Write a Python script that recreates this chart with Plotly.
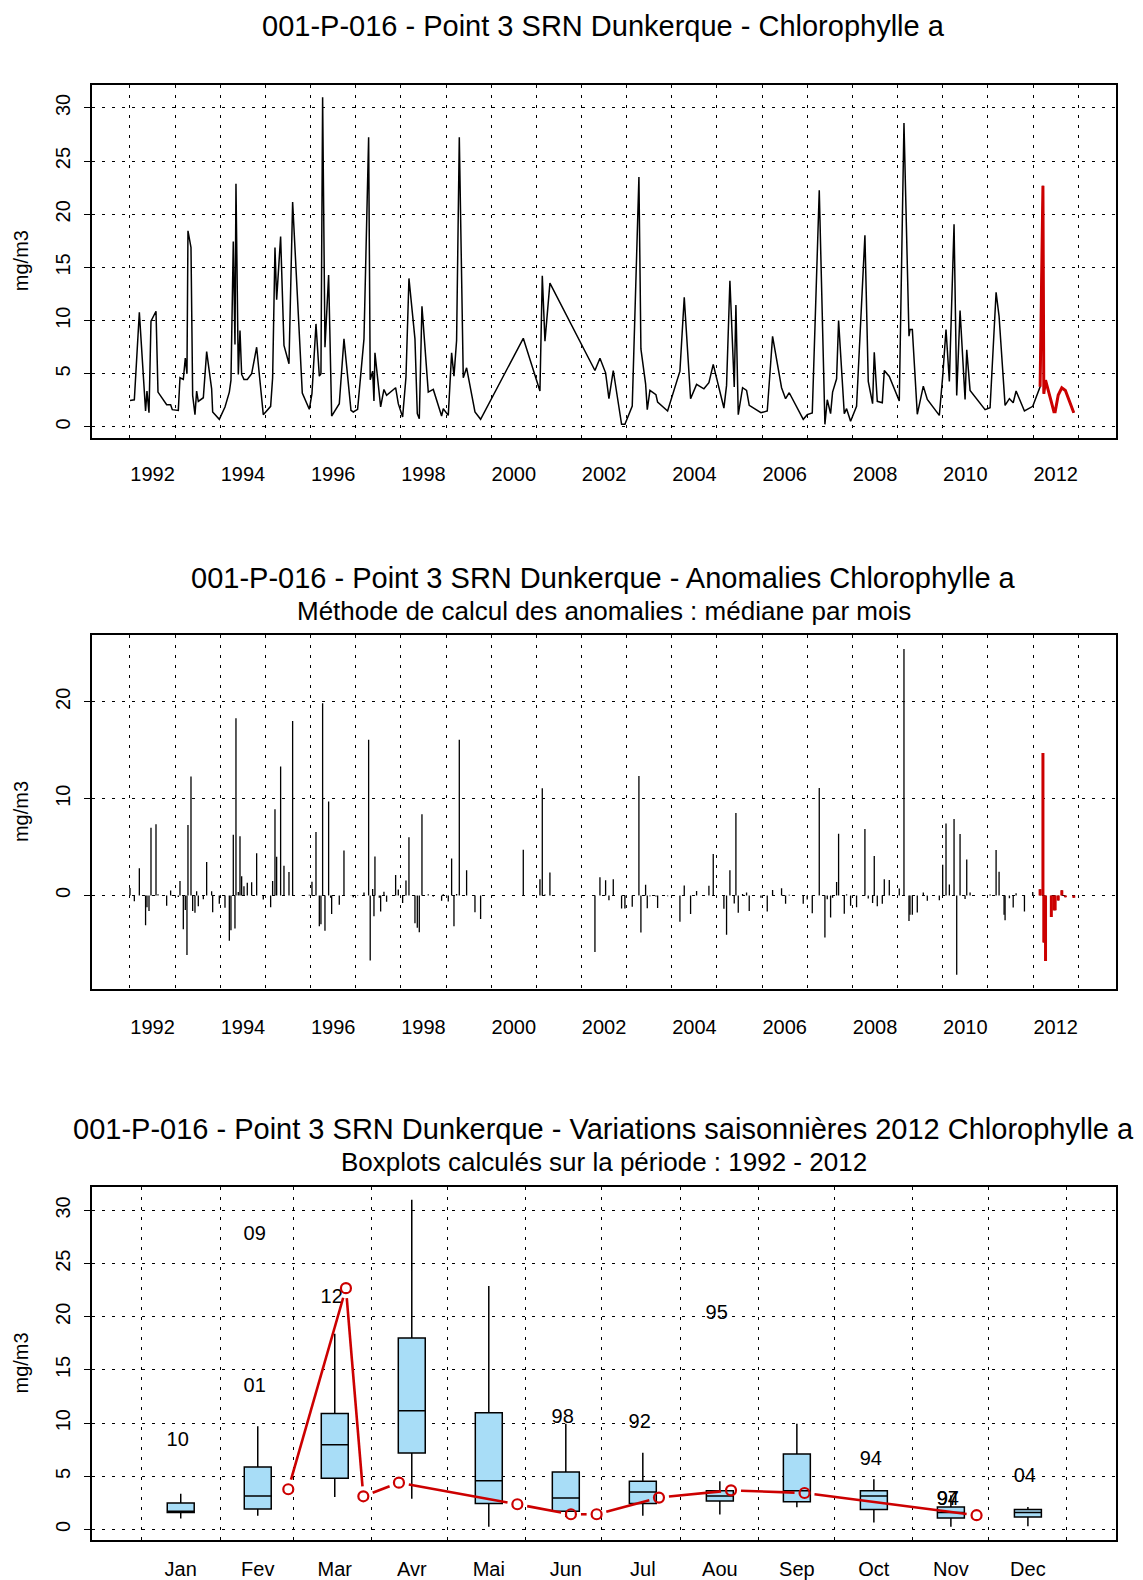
import math
import calendar
import datetime as dt
import plotly.graph_objects as go

# ---------------- data ----------------
# Chlorophylle a time series 1992-2011 (decimal year, mg/m3)
hist_years = [
    1992.000, 1992.096, 1992.207, 1992.345, 1992.376, 1992.421, 1992.465, 1992.576, 1992.620, 1992.812,
    1992.900, 1992.937, 1993.070, 1993.107, 1993.181, 1993.225, 1993.262, 1993.284, 1993.351, 1993.388,
    1993.439, 1993.476, 1993.513, 1993.624, 1993.698, 1993.808, 1993.831, 1993.978, 1994.104, 1994.200,
    1994.236, 1994.288, 1994.325, 1994.347, 1994.399, 1994.436, 1994.473, 1994.524, 1994.598, 1994.694,
    1994.805, 1994.952, 1995.115, 1995.159, 1995.211, 1995.248, 1995.336, 1995.410, 1995.521, 1995.602,
    1995.816, 1995.971, 1996.030, 1996.119, 1996.193, 1996.229, 1996.266, 1996.318, 1996.399, 1996.443,
    1996.466, 1996.635, 1996.739, 1996.894, 1996.945, 1997.041, 1997.182, 1997.285, 1997.320, 1997.374,
    1997.403, 1997.425, 1997.521, 1997.551, 1997.624, 1997.683, 1997.883, 1997.942, 1998.038, 1998.112,
    1998.178, 1998.311, 1998.363, 1998.407, 1998.466, 1998.606, 1998.717, 1998.901, 1998.938, 1999.049,
    1999.123, 1999.175, 1999.233, 1999.293, 1999.381, 1999.455, 1999.640, 1999.765, 2000.710, 2001.079,
    2001.131, 2001.190, 2001.300, 2002.297, 2002.408, 2002.533, 2002.607, 2002.703, 2002.887, 2002.961,
    2003.123, 2003.271, 2003.315, 2003.419, 2003.456, 2003.515, 2003.648, 2003.685, 2003.906, 2004.179,
    2004.275, 2004.415, 2004.548, 2004.710, 2004.821, 2004.917, 2005.153, 2005.212, 2005.286, 2005.382,
    2005.419, 2005.471, 2005.567, 2005.655, 2005.714, 2005.973, 2006.113, 2006.231, 2006.430, 2006.519,
    2006.600, 2006.910, 2006.999, 2007.110, 2007.265, 2007.390, 2007.442, 2007.516, 2007.560, 2007.649,
    2007.693, 2007.819, 2007.870, 2007.959, 2008.091, 2008.276, 2008.350, 2008.446, 2008.483, 2008.550,
    2008.661, 2008.705, 2008.816, 2009.037, 2009.141, 2009.252, 2009.274, 2009.326, 2009.436, 2009.569,
    2009.658, 2009.924, 2009.998, 2010.072, 2010.146, 2010.250, 2010.309, 2010.383, 2010.494, 2010.531,
    2010.605, 2010.937, 2011.048, 2011.181, 2011.247, 2011.358, 2011.380, 2011.476, 2011.560, 2011.624,
    2011.809, 2011.993,
]
hist_values = [
    2.50, 2.56, 10.78, 1.50, 3.38, 1.34, 9.94, 10.88, 3.28, 2.09,
    2.09, 1.63, 1.56, 4.63, 4.47, 6.47, 5.00, 18.44, 16.88, 2.97,
    1.16, 3.38, 2.41, 2.75, 7.09, 3.59, 1.41, 0.72, 1.88, 3.28,
    4.38, 17.44, 7.75, 22.88, 4.94, 9.06, 4.94, 4.47, 4.47, 5.00,
    7.50, 1.16, 1.94, 4.63, 16.88, 11.97, 17.91, 7.66, 5.94, 21.16,
    3.19, 1.66, 3.13, 9.69, 4.78, 5.00, 31.00, 7.50, 14.28, 2.72,
    1.03, 2.19, 8.28, 1.56, 1.41, 1.66, 8.28, 27.25, 4.44, 5.25,
    2.44, 6.97, 3.28, 1.88, 3.53, 2.97, 3.69, 2.19, 0.94, 4.69,
    13.97, 8.28, 1.25, 0.78, 11.34, 3.28, 3.53, 1.03, 1.72, 1.09,
    6.97, 4.78, 8.13, 27.25, 4.63, 5.56, 1.41, 0.72, 8.34, 3.38,
    14.22, 8.06, 13.53, 5.31, 6.47, 5.09, 2.66, 5.31, 0.25, 0.25,
    1.97, 23.50, 7.34, 4.06, 1.63, 3.44, 3.03, 2.34, 1.50, 5.25,
    12.19, 2.66, 4.00, 3.59, 4.16, 5.88, 1.78, 3.91, 13.75, 3.75,
    11.47, 1.16, 3.69, 3.44, 2.03, 1.34, 1.50, 8.53, 3.69, 2.66,
    3.22, 0.72, 1.16, 1.31, 22.25, 0.25, 2.56, 1.25, 3.28, 4.53,
    10.00, 1.25, 1.72, 0.53, 1.94, 18.03, 4.28, 2.19, 7.03, 2.41,
    2.28, 5.31, 4.75, 2.44, 28.59, 8.53, 9.16, 9.16, 1.19, 3.84,
    2.59, 1.09, 4.75, 9.16, 4.28, 19.06, 2.97, 10.94, 2.59, 7.25,
    3.44, 1.63, 1.81, 12.66, 10.41, 2.59, 2.03, 2.66, 2.28, 3.38,
    1.50, 1.94,
]

# 2012 samples
dates_2012 = ["2012-02-27", "2012-03-21", "2012-03-28", "2012-04-11", "2012-05-28", "2012-06-18",
              "2012-06-28", "2012-07-23", "2012-08-21", "2012-09-19", "2012-11-26"]
values_2012 = [3.78, 22.69, 3.12, 4.40, 2.37, 1.43, 1.43, 3.00, 3.68, 3.43, 1.34]

# Monthly boxplot statistics 1992-2012
months = ["Jan", "Fev", "Mar", "Avr", "Mai", "Jun", "Jul", "Aou", "Sep", "Oct", "Nov", "Dec"]
box_low = [1.03, 1.28, 3.06, 2.90, 0.25, 1.18, 1.28, 1.41, 2.08, 0.66, 0.25, 0.31]
box_q1 = [1.59, 1.93, 4.81, 7.20, 2.44, 1.72, 2.44, 2.68, 2.60, 1.87, 1.09, 1.18]
box_med = [1.72, 3.15, 7.97, 11.16, 4.59, 2.96, 3.53, 3.15, 3.63, 3.15, 1.59, 1.59]
box_q3 = [2.50, 5.87, 10.90, 18.00, 10.97, 5.40, 4.53, 3.63, 7.09, 3.63, 2.12, 1.87]
box_high = [3.37, 9.71, 18.40, 31.00, 22.90, 9.94, 7.22, 4.53, 9.94, 4.72, 3.21, 2.12]

# Outliers labelled by year (month index, value, label)
out_month = [1, 2, 2, 3, 6, 7, 8, 10, 11, 11, 12]
out_value = [8.3, 27.7, 13.4, 21.8, 10.45, 10.0, 20.3, 6.55, 2.8, 2.8, 4.95]
out_label = ["10", "09", "01", "12", "98", "92", "95", "94", "94", "97", "04"]

year_ticks = [1992, 1994, 1996, 1998, 2000, 2002, 2004, 2006, 2008, 2010, 2012]
year_grid = list(range(1992, 2014))
month_grid = [0.494, 1.511, 2.463, 3.481, 4.468, 5.481, 6.468, 7.485, 8.502, 9.489, 10.506, 11.488, 12.506]

# ---------------- layout constants ----------------
W, H = 1143, 1580
X_PX = (91.7, 1115.7)
P1_PX = (85.0, 439.0)
P2_PX = (637.3, 992.0)
P3_PX = (1190.7, 1545.0)
X12_RANGE = [1991.152, 2013.83]
Y1_RANGE = [-1.0, 32.18]
Y2_RANGE = [-9.65, 26.87]
X3_RANGE = [-0.156, 13.14]
Y3_RANGE = [-1.0, 32.21]

RED = "#CC0000"
BOXFILL = "#A8DDF7"
FONT = "Liberation Sans, Arial, Helvetica, sans-serif"
GRIDDASH = "3px,7px"

def xdom(a, b):
    return [a / W, b / W]

def ydom(t, b):
    return [1 - b / H, 1 - t / H]

# ---------------- derived series ----------------
d2012 = [dt.date.fromisoformat(s) for s in dates_2012]
dec_2012 = [d.year + (d.timetuple().tm_yday - 1) / 366.0 for d in d2012]
mx_2012 = [d.month + (d.day - 1) / calendar.monthrange(d.year, d.month)[1] - 0.5 for d in d2012]

all_years = hist_years + dec_2012
all_values = hist_values + values_2012

def month_of(y):
    return min(12, int((y - math.floor(y)) * 12) + 1)

hist_anom = [v - box_med[month_of(y) - 1] for y, v in zip(all_years, all_values)]
anom_2012 = [v - box_med[d.month - 1] for d, v in zip(d2012, values_2012)]

def stems(xs, ys):
    sx, sy = [], []
    for x, y in zip(xs, ys):
        sx += [x, x, None]
        sy += [0, y, None]
    return sx, sy

fig = go.Figure()

# Panel 1
fig.add_trace(go.Scatter(x=all_years, y=all_values, mode="lines",
                         line=dict(color="black", width=1.5), xaxis="x", yaxis="y", showlegend=False))
fig.add_trace(go.Scatter(x=dec_2012, y=values_2012, mode="lines",
                         line=dict(color=RED, width=3), xaxis="x", yaxis="y", showlegend=False))

# Panel 2
ax, ay = stems(all_years, hist_anom)
fig.add_trace(go.Scatter(x=ax, y=ay, mode="lines", line=dict(color="black", width=1.3),
                         xaxis="x2", yaxis="y2", showlegend=False))
rx, ry = stems(dec_2012, anom_2012)
fig.add_trace(go.Scatter(x=rx, y=ry, mode="lines", line=dict(color=RED, width=3),
                         xaxis="x2", yaxis="y2", showlegend=False))

# Panel 3 boxes
fig.add_trace(go.Box(x=list(range(1, 13)), q1=box_q1, median=box_med, q3=box_q3,
                     lowerfence=box_low, upperfence=box_high, orientation="v",
                     fillcolor=BOXFILL, line=dict(color="black", width=1.5), width=0.35,
                     whiskerwidth=0, boxpoints=False, xaxis="x3", yaxis="y3", showlegend=False,
                     hoverinfo="skip"))
fig.add_trace(go.Scatter(x=[m - 0.04 for m in out_month], y=out_value, mode="text", text=out_label,
                         textfont=dict(size=20, color="black", family=FONT),
                         xaxis="x3", yaxis="y3", showlegend=False))

# red "type b" line with gaps around points
sxp = (X_PX[1] - X_PX[0]) / (X3_RANGE[1] - X3_RANGE[0])
syp = (P3_PX[1] - P3_PX[0]) / (Y3_RANGE[1] - Y3_RANGE[0])
gap = 10.0
seg_x, seg_y = [], []
for i in range(len(mx_2012) - 1):
    x0, y0, x1, y1 = mx_2012[i], values_2012[i], mx_2012[i + 1], values_2012[i + 1]
    d = math.hypot((x1 - x0) * sxp, (y1 - y0) * syp)
    if d > 2 * gap:
        f = gap / d
        seg_x += [x0 + (x1 - x0) * f, x1 - (x1 - x0) * f, None]
        seg_y += [y0 + (y1 - y0) * f, y1 - (y1 - y0) * f, None]
fig.add_trace(go.Scatter(x=seg_x, y=seg_y, mode="lines", line=dict(color=RED, width=2.6),
                         xaxis="x3", yaxis="y3", showlegend=False))
fig.add_trace(go.Scatter(x=mx_2012, y=values_2012, mode="markers",
                         marker=dict(symbol="circle-open", size=10, color=RED, line=dict(width=2.2, color=RED)),
                         xaxis="x3", yaxis="y3", showlegend=False))

tickfont = dict(size=20, color="black", family=FONT)

def xaxis_common(dom_range, rng, tickvals, ticktext, gridvals, standoff, anchor):
    return dict(domain=xdom(*dom_range), range=rng, anchor=anchor,
                tickmode="array", tickvals=tickvals, ticktext=ticktext,
                showgrid=False, zeroline=False, ticks="", tickfont=tickfont,
                ticklabelstandoff=standoff,
                showline=True, linecolor="black", linewidth=1.5, mirror=True,
                minor=dict(tickmode="array", tickvals=gridvals, showgrid=True, gridcolor="black",
                           griddash=GRIDDASH, gridwidth=1.2, ticks=""))

def yaxis_common(px, rng, tickvals, anchor):
    return dict(domain=ydom(*px), range=rng, anchor=anchor,
                tickmode="array", tickvals=tickvals, ticktext=[str(v) for v in tickvals],
                tickangle=-90, ticks="outside", ticklen=6, tickwidth=1.2, tickcolor="black",
                tickfont=tickfont, ticklabelstandoff=6,
                showgrid=True, gridcolor="black", griddash=GRIDDASH, gridwidth=1.2,
                zeroline=False, showline=True, linecolor="black", linewidth=1.5, mirror=True)

year_tickvals = [y + 0.5 for y in year_ticks]
year_ticktext = [str(y) for y in year_ticks]

fig.update_layout(
    width=W, height=H, margin=dict(l=0, r=0, t=0, b=0),
    paper_bgcolor="white", plot_bgcolor="white",
    font=dict(family=FONT, color="black"),
    xaxis=xaxis_common(X_PX, X12_RANGE, year_tickvals, year_ticktext, year_grid, 18, "y"),
    yaxis=yaxis_common(P1_PX, Y1_RANGE, [0, 5, 10, 15, 20, 25, 30], "x"),
    xaxis2=xaxis_common(X_PX, X12_RANGE, year_tickvals, year_ticktext, year_grid, 19, "y2"),
    yaxis2=yaxis_common(P2_PX, Y2_RANGE, [0, 10, 20], "x2"),
    xaxis3=xaxis_common(X_PX, X3_RANGE, list(range(1, 13)), months, month_grid, 10, "y3"),
    yaxis3=yaxis_common(P3_PX, Y3_RANGE, [0, 5, 10, 15, 20, 25, 30], "x3"),
)

cx = (X_PX[0] + X_PX[1]) / 2 / W
def ann(text, ypx, size, x=cx, angle=0):
    fig.add_annotation(text=text, xref="paper", yref="paper", x=x, y=1 - ypx / H,
                       xanchor="center", yanchor="middle", showarrow=False, textangle=angle,
                       font=dict(size=size, color="black", family=FONT))

ann("001-P-016 - Point 3 SRN Dunkerque - Chlorophylle a", 26, 29)
ann("001-P-016 - Point 3 SRN Dunkerque - Anomalies Chlorophylle a", 580, 29)
ann("Méthode de calcul des anomalies : médiane par mois", 613, 26)
ann("001-P-016 - Point 3 SRN Dunkerque - Variations saisonnières 2012 Chlorophylle a", 1133, 29)
ann("Boxplots calculés sur la période : 1992 - 2012", 1166, 26)
for p in (P1_PX, P2_PX, P3_PX):
    ann("mg/m3", (p[0] + p[1]) / 2, 20, x=21 / W, angle=-90)

fig.write_html("out.html")
